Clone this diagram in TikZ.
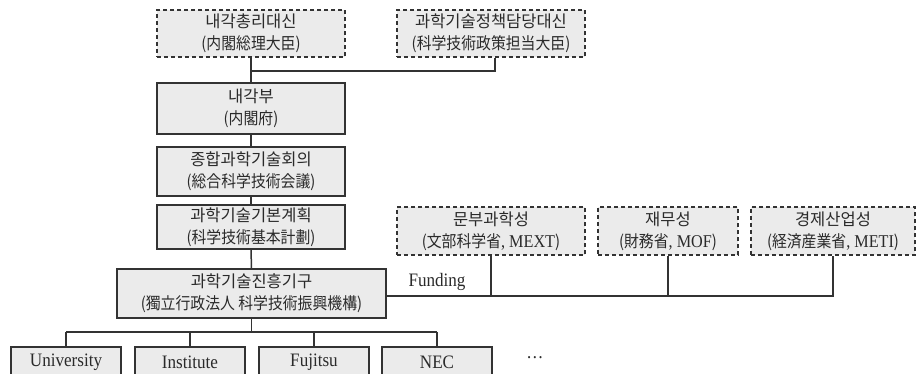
\documentclass[tikz,border=0pt]{standalone}
\usepackage{fontspec}
\setmainfont{Liberation Serif}[FakeStretch=0.9]
\newfontfamily\kr{Noto Sans CJK KR}
\newfontfamily\krc{Noto Sans CJK KR}[FakeStretch=0.9]
\definecolor{boxfill}{HTML}{EBEBEB}
\definecolor{ln}{HTML}{333333}
\definecolor{txt}{HTML}{2A2A2A}
\tikzset{
  solidbox/.style={draw=ln, line width=1.6pt, fill=boxfill, inner sep=0pt, align=center,
    text=txt, font=\kr\fontsize{16.5}{22}\selectfont},
  dashbox/.style={solidbox, line width=1.4pt, dash pattern=on 4pt off 3pt},
  latbox/.style={solidbox, font=\fontsize{19}{20}\selectfont},
  conn/.style={draw=ln, line width=1.5pt},
  lbl/.style={text=txt, inner sep=0pt, font=\fontsize{19}{20}\selectfont}
}
\newcommand{\latn}[1]{{\rmfamily\fontsize{18}{20}\selectfont #1}}
\newcommand{\hj}[1]{{\krc #1}}
\begin{document}
\begin{tikzpicture}[x=1pt,y=-1pt]
\useasboundingbox (0,0) rectangle (917,373);
% top row
\node[dashbox, minimum width=188pt, minimum height=47pt] (pm) at (251,33.5)
  {내각총리대신\\\hj{(内閣総理大臣)}};
\node[dashbox, minimum width=188pt, minimum height=47pt] (stm) at (491,33.5)
  {과학기술정책담당대신\\\hj{(科学技術政策担当大臣)}};
% main column
\node[solidbox, minimum width=188pt, minimum height=51pt] (cab) at (251,108.5)
  {내각부\\\hj{(内閣府)}};
\node[solidbox, minimum width=188pt, minimum height=49pt] (cstp) at (251,171.5)
  {종합과학기술회의\\\hj{(総合科学技術会議)}};
\node[solidbox, minimum width=188pt, minimum height=44pt] (plan) at (251,227)
  {과학기술기본계획\\\hj{(科学技術基本計劃)}};
\node[solidbox, minimum width=269pt, minimum height=49pt] (jst) at (251.5,293.5)
  {과학기술진흥기구\\\hj{(獨立行政法人 科学技術振興機構)}};
% ministries
\node[dashbox, minimum width=188pt, minimum height=48pt] (mext) at (491,231)
  {문부과학성\\\hj{(文部科学省\latn{, MEXT})}};
\node[dashbox, minimum width=140pt, minimum height=48pt] (mof) at (668,231)
  {재무성\\\hj{(財務省\latn{, MOF})}};
\node[dashbox, minimum width=164pt, minimum height=48pt] (meti) at (833,231)
  {경제산업성\\\hj{(経済産業省\latn{, METI})}};
% bottom row
\node[latbox, minimum width=110pt, minimum height=30pt] (univ) at (66,362) {University};
\node[latbox, minimum width=110pt, minimum height=30pt] (inst) at (190,362) {Institute};
\node[latbox, minimum width=110pt, minimum height=30pt] (fuj) at (314,362) {Fujitsu};
\node[latbox, minimum width=110pt, minimum height=30pt] (nec) at (437,362) {NEC};
\node[lbl] (dots) at (535,358) {…};
\node[lbl] (fund) at (437,282) {Funding};
% connectors top
\coordinate (t) at (0,71);
\coordinate (pmsub) at (495,57);
\draw[conn] (pm.south) -- (cab.north);
\draw[conn] (pm.south |- t) -- (pmsub |- t) -- ([xshift=4pt]stm.south);
\draw[conn] (cab.south) -- (cstp.north);
\draw[conn] (cstp.south) -- (plan.north);
\draw[conn] (plan.south) -- (jst.north);
% funding
\coordinate (f) at (0,296);
\draw[conn] (jst.east |- f) -- (meti.south |- f) -- (meti.south);
\draw[conn] (mext.south) -- (mext.south |- f);
\draw[conn] (mof.south) -- (mof.south |- f);
% bottom
\coordinate (b) at (0,332);
\draw[conn] (jst.south) -- (jst.south |- b);
\draw[conn] (univ.north |- b) -- (nec.north |- b);
\draw[conn] (univ.north |- b) -- (univ.north);
\draw[conn] (inst.north |- b) -- (inst.north);
\draw[conn] (fuj.north |- b) -- (fuj.north);
\draw[conn] (nec.north |- b) -- (nec.north);
\end{tikzpicture}
\end{document}
